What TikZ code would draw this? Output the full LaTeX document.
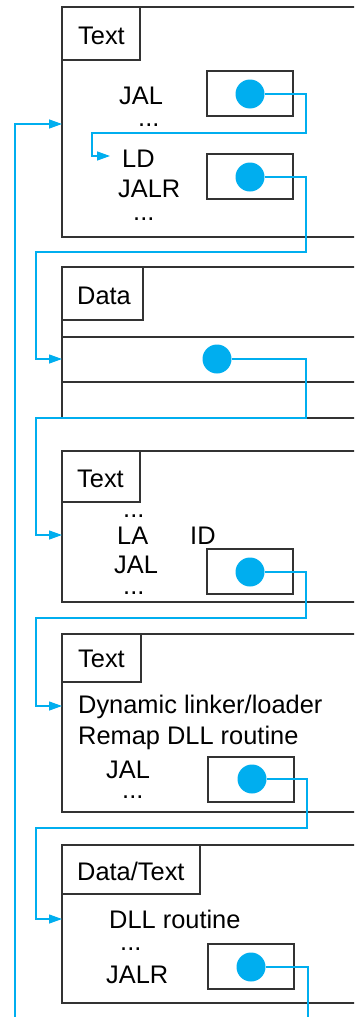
\documentclass[tikz,border=0pt]{standalone}
\usepackage{fontspec}
\setmainfont{Liberation Sans}
\usetikzlibrary{arrows.meta}
\definecolor{wireblue}{RGB}{0,174,239}
\definecolor{edge}{RGB}{51,51,51}
\begin{document}
\begin{tikzpicture}[x=1pt,y=-1pt,
  box/.style={draw=edge,line width=1.6pt,inner sep=0pt,outer sep=0pt,anchor=north west},
  lbl/.style={anchor=base west,inner sep=0pt,font=\fontsize{25.4}{30}\selectfont},
  dotc/.style={circle,fill=wireblue,minimum size=29pt,inner sep=0pt},
  wire/.style={draw=wireblue,line width=1.3pt},
  arr/.style={wire,-{Triangle[length=13pt,width=9pt]}}]
\useasboundingbox (0,0) rectangle (354,1017);
\fill[white] (0,0) rectangle (354,1017);
\clip (0,0) rectangle (354,1017);

% ---------- Box 1: Text ----------
\node[box,minimum width=340pt,minimum height=230pt] (b1) at (62,7) {};
\node[box,minimum width=78pt,minimum height=53pt] (b1l) at (62,7) {};
\node[lbl] (b1t) at (78,44) {Text};
\node[lbl] (b1a) at (119,104) {JAL};
\node[lbl] (b1b) at (138,126) {...};
\node[lbl] (b1c) at (122,167) {LD};
\node[lbl] (b1d) at (118,197) {JALR};
\node[lbl] (b1e) at (133,220) {...};
\node[box,minimum width=86pt,minimum height=45pt] (i1) at (207,71) {};
\node[dotc] (d1) at (250,94) {};
\node[box,minimum width=86pt,minimum height=45pt] (i2) at (207,154) {};
\node[dotc] (d2) at (250,177) {};

% ---------- Box 2: Data ----------
\node[box,minimum width=340pt,minimum height=151pt] (b2) at (62,267) {};
\node[box,minimum width=81pt,minimum height=53pt] (b2l) at (62,267) {};
\node[lbl] (b2t) at (77,304) {Data};
\draw[edge,line width=1.6pt] (b2.west |- 0,337) -- (400,337);
\draw[edge,line width=1.6pt] (b2.west |- 0,382) -- (400,382);
\node[dotc] (d3) at (217,359) {};

% ---------- Box 3: Text ----------
\node[box,minimum width=340pt,minimum height=151pt] (b3) at (62,451) {};
\node[box,minimum width=78pt,minimum height=51pt] (b3l) at (62,451) {};
\node[lbl] (b3t) at (77,487) {Text};
\node[lbl] (b3a) at (123,517) {...};
\node[lbl] (b3b) at (117,544) {LA};
\node[lbl] (b3c) at (190,544) {ID};
\node[lbl] (b3d) at (114,573) {JAL};
\node[lbl] (b3e) at (123,594) {...};
\node[box,minimum width=86pt,minimum height=45pt] (i3) at (207,549) {};
\node[dotc] (d4) at (250,572) {};

% ---------- Box 4: Text ----------
\node[box,minimum width=340pt,minimum height=178pt] (b4) at (62,634) {};
\node[box,minimum width=79pt,minimum height=48pt] (b4l) at (62,634) {};
\node[lbl] (b4t) at (78,667) {Text};
\node[lbl] (b4a) at (78,713) {Dynamic linker/loader};
\node[lbl] (b4b) at (78,744) {Remap DLL routine};
\node[lbl] (b4c) at (106,778) {JAL};
\node[lbl] (b4d) at (122,798) {...};
\node[box,minimum width=86pt,minimum height=45pt] (i4) at (208,757) {};
\node[dotc] (d5) at (252,779) {};

% ---------- Box 5: Data/Text ----------
\node[box,minimum width=340pt,minimum height=158pt] (b5) at (62,845) {};
\node[box,minimum width=138pt,minimum height=49pt] (b5l) at (62,845) {};
\node[lbl] (b5t) at (77,880) {Data/Text};
\node[lbl] (b5a) at (109,928) {DLL routine};
\node[lbl] (b5b) at (120,950) {...};
\node[lbl] (b5c) at (106,983) {JALR};
\node[box,minimum width=86pt,minimum height=45pt] (i5) at (208,944) {};
\node[dotc] (d6) at (251,967) {};

% ---------- connectors ----------
\coordinate (ldin) at (110,156);
\coordinate (w0s) at (15,1030);
\coordinate (w6e) at (308,1030);

\draw[arr] (w0s) |- (b1.west |- 0,124);
\draw[arr] (d1.east) -| (306,133) -| (92,156) -- (ldin);
\draw[arr] (d2.east) -| (306,252) -| (36,359) -- (b2.west |- 0,359);
\draw[arr] (d3.east) -| (306,418) -| (36,535) -- (b3.west |- 0,535);
\draw[arr] (d4.east) -| (306,618) -| (36,706) -- (b4.west |- 0,706);
\draw[arr] (d5.east) -| (307,828) -| (36,919) -- (b5.west |- 0,919);
\draw[wire] (d6.east) -| (w6e);
\end{tikzpicture}
\end{document}
